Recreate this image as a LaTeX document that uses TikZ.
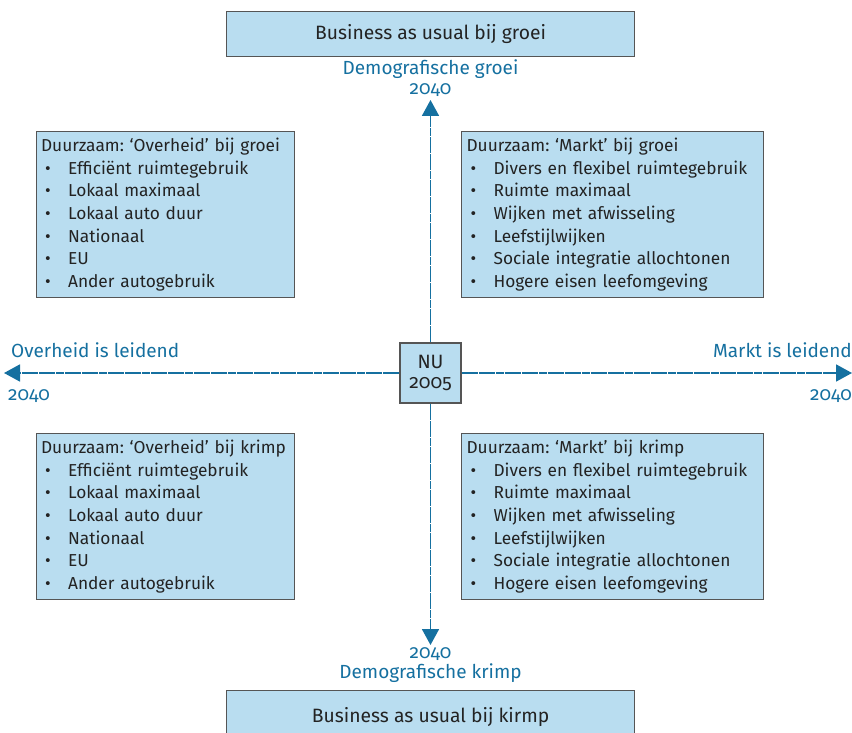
\documentclass[tikz,border=0pt]{standalone}
\usepackage{fontspec}
\setmainfont{Fira Sans}[Numbers=OldStyle]
\usetikzlibrary{arrows.meta}
\definecolor{vlak}{RGB}{185,221,240}
\definecolor{as}{RGB}{21,112,160}
\definecolor{rand}{RGB}{85,85,85}
\definecolor{tekst}{RGB}{35,35,35}
\newcommand{\punt}{\makebox[31pt][l]{\hspace{8pt}\textbullet}}
\frenchspacing
\begin{document}
\begin{tikzpicture}[x=1pt,y=1pt,
    kader/.style={draw=rand,line width=1.2pt,fill=vlak,text=tekst,inner sep=0pt},
    lijst/.style={kader,anchor=north west,minimum height=166,align=left,
        font=\fontsize{17.3}{22.6}\selectfont},
    aslabel/.style={text=as,inner sep=0pt,font=\fontsize{19}{18}\selectfont},
    pijl/.style={draw=as,line width=1.8pt,dash pattern=on 8pt off 0.6pt,
        -{Triangle[length=16pt,width=17pt]}}]
    \useasboundingbox (0,0) rectangle (852,-733);
    \clip (0,0) rectangle (852,-733);
    %===========================================
    \node[kader,minimum width=408,minimum height=45,anchor=north west,
        font=\fontsize{19.3}{20}\selectfont] (groei) at (226,-11) {Business as usual bij groei};
    \node[kader,minimum width=408,minimum height=52,anchor=north west,
        font=\fontsize{19.3}{20}\selectfont] (krimp) at (226,-690) {Business as usual bij kirmp};
    \node[kader,minimum width=61,minimum height=60,align=center,
        font=\fontsize{19.3}{20}\selectfont] (nu) at (430.5,-373) {NU\\2005};
    %===========================================
    \node[lijst,minimum width=258,text width=257] (og) at (36,-131)
        {\hspace{4pt}Duurzaam: ‘Overheid’ bij groei\\
        \punt Efficiënt ruimtegebruik\\ \punt Lokaal maximaal\\ \punt Lokaal auto duur\\
        \punt Nationaal\\ \punt EU\\ \punt Ander autogebruik};
    \node[lijst,minimum width=302,text width=300] (mg) at (461,-131)
        {\hspace{4pt}Duurzaam: ‘Markt’ bij groei\\
        \punt Divers en flexibel ruimtegebruik\\ \punt Ruimte maximaal\\ \punt Wijken met afwisseling\\
        \punt Leefstijlwijken\\ \punt Sociale integratie allochtonen\\ \punt Hogere eisen leefomgeving};
    \node[lijst,minimum width=258,text width=257] (ok) at (36,-433)
        {\hspace{4pt}Duurzaam: ‘Overheid’ bij krimp\\
        \punt Efficiënt ruimtegebruik\\ \punt Lokaal maximaal\\ \punt Lokaal auto duur\\
        \punt Nationaal\\ \punt EU\\ \punt Ander autogebruik};
    \node[lijst,minimum width=302,text width=300] (mk) at (461,-433)
        {\hspace{4pt}Duurzaam: ‘Markt’ bij krimp\\
        \punt Divers en flexibel ruimtegebruik\\ \punt Ruimte maximaal\\ \punt Wijken met afwisseling\\
        \punt Leefstijlwijken\\ \punt Sociale integratie allochtonen\\ \punt Hogere eisen leefomgeving};
    %===========================================
    \coordinate (boven) at (430.5,-100);
    \coordinate (onder) at (430.5,-645);
    \coordinate (links) at (4,-373);
    \coordinate (rechts) at (852,-373);
    \draw[pijl] (nu.north) -- (boven);
    \draw[pijl] (nu.south) -- (onder);
    \draw[pijl] (nu.west) -- (links);
    \draw[pijl] (nu.east) -- (rechts);
    %===========================================
    \node[aslabel] (dgroei) at (430.5,-69.5) {Demografische groei};
    \node[aslabel] (jboven) at (430.5,-90) {2040};
    \node[aslabel] (jonder) at (430.5,-654) {2040};
    \node[aslabel] (dkrimp) at (430.5,-673.5) {Demografische krimp};
    \node[aslabel,anchor=west] (overheid) at (11,-350) {Overheid is leidend};
    \node[aslabel] (jlinks) at (29,-396) {2040};
    \node[aslabel,anchor=east] (markt) at (852,-350) {Markt is leidend};
    \node[aslabel] (jrechts) at (831,-396) {2040};
\end{tikzpicture}
\end{document}
